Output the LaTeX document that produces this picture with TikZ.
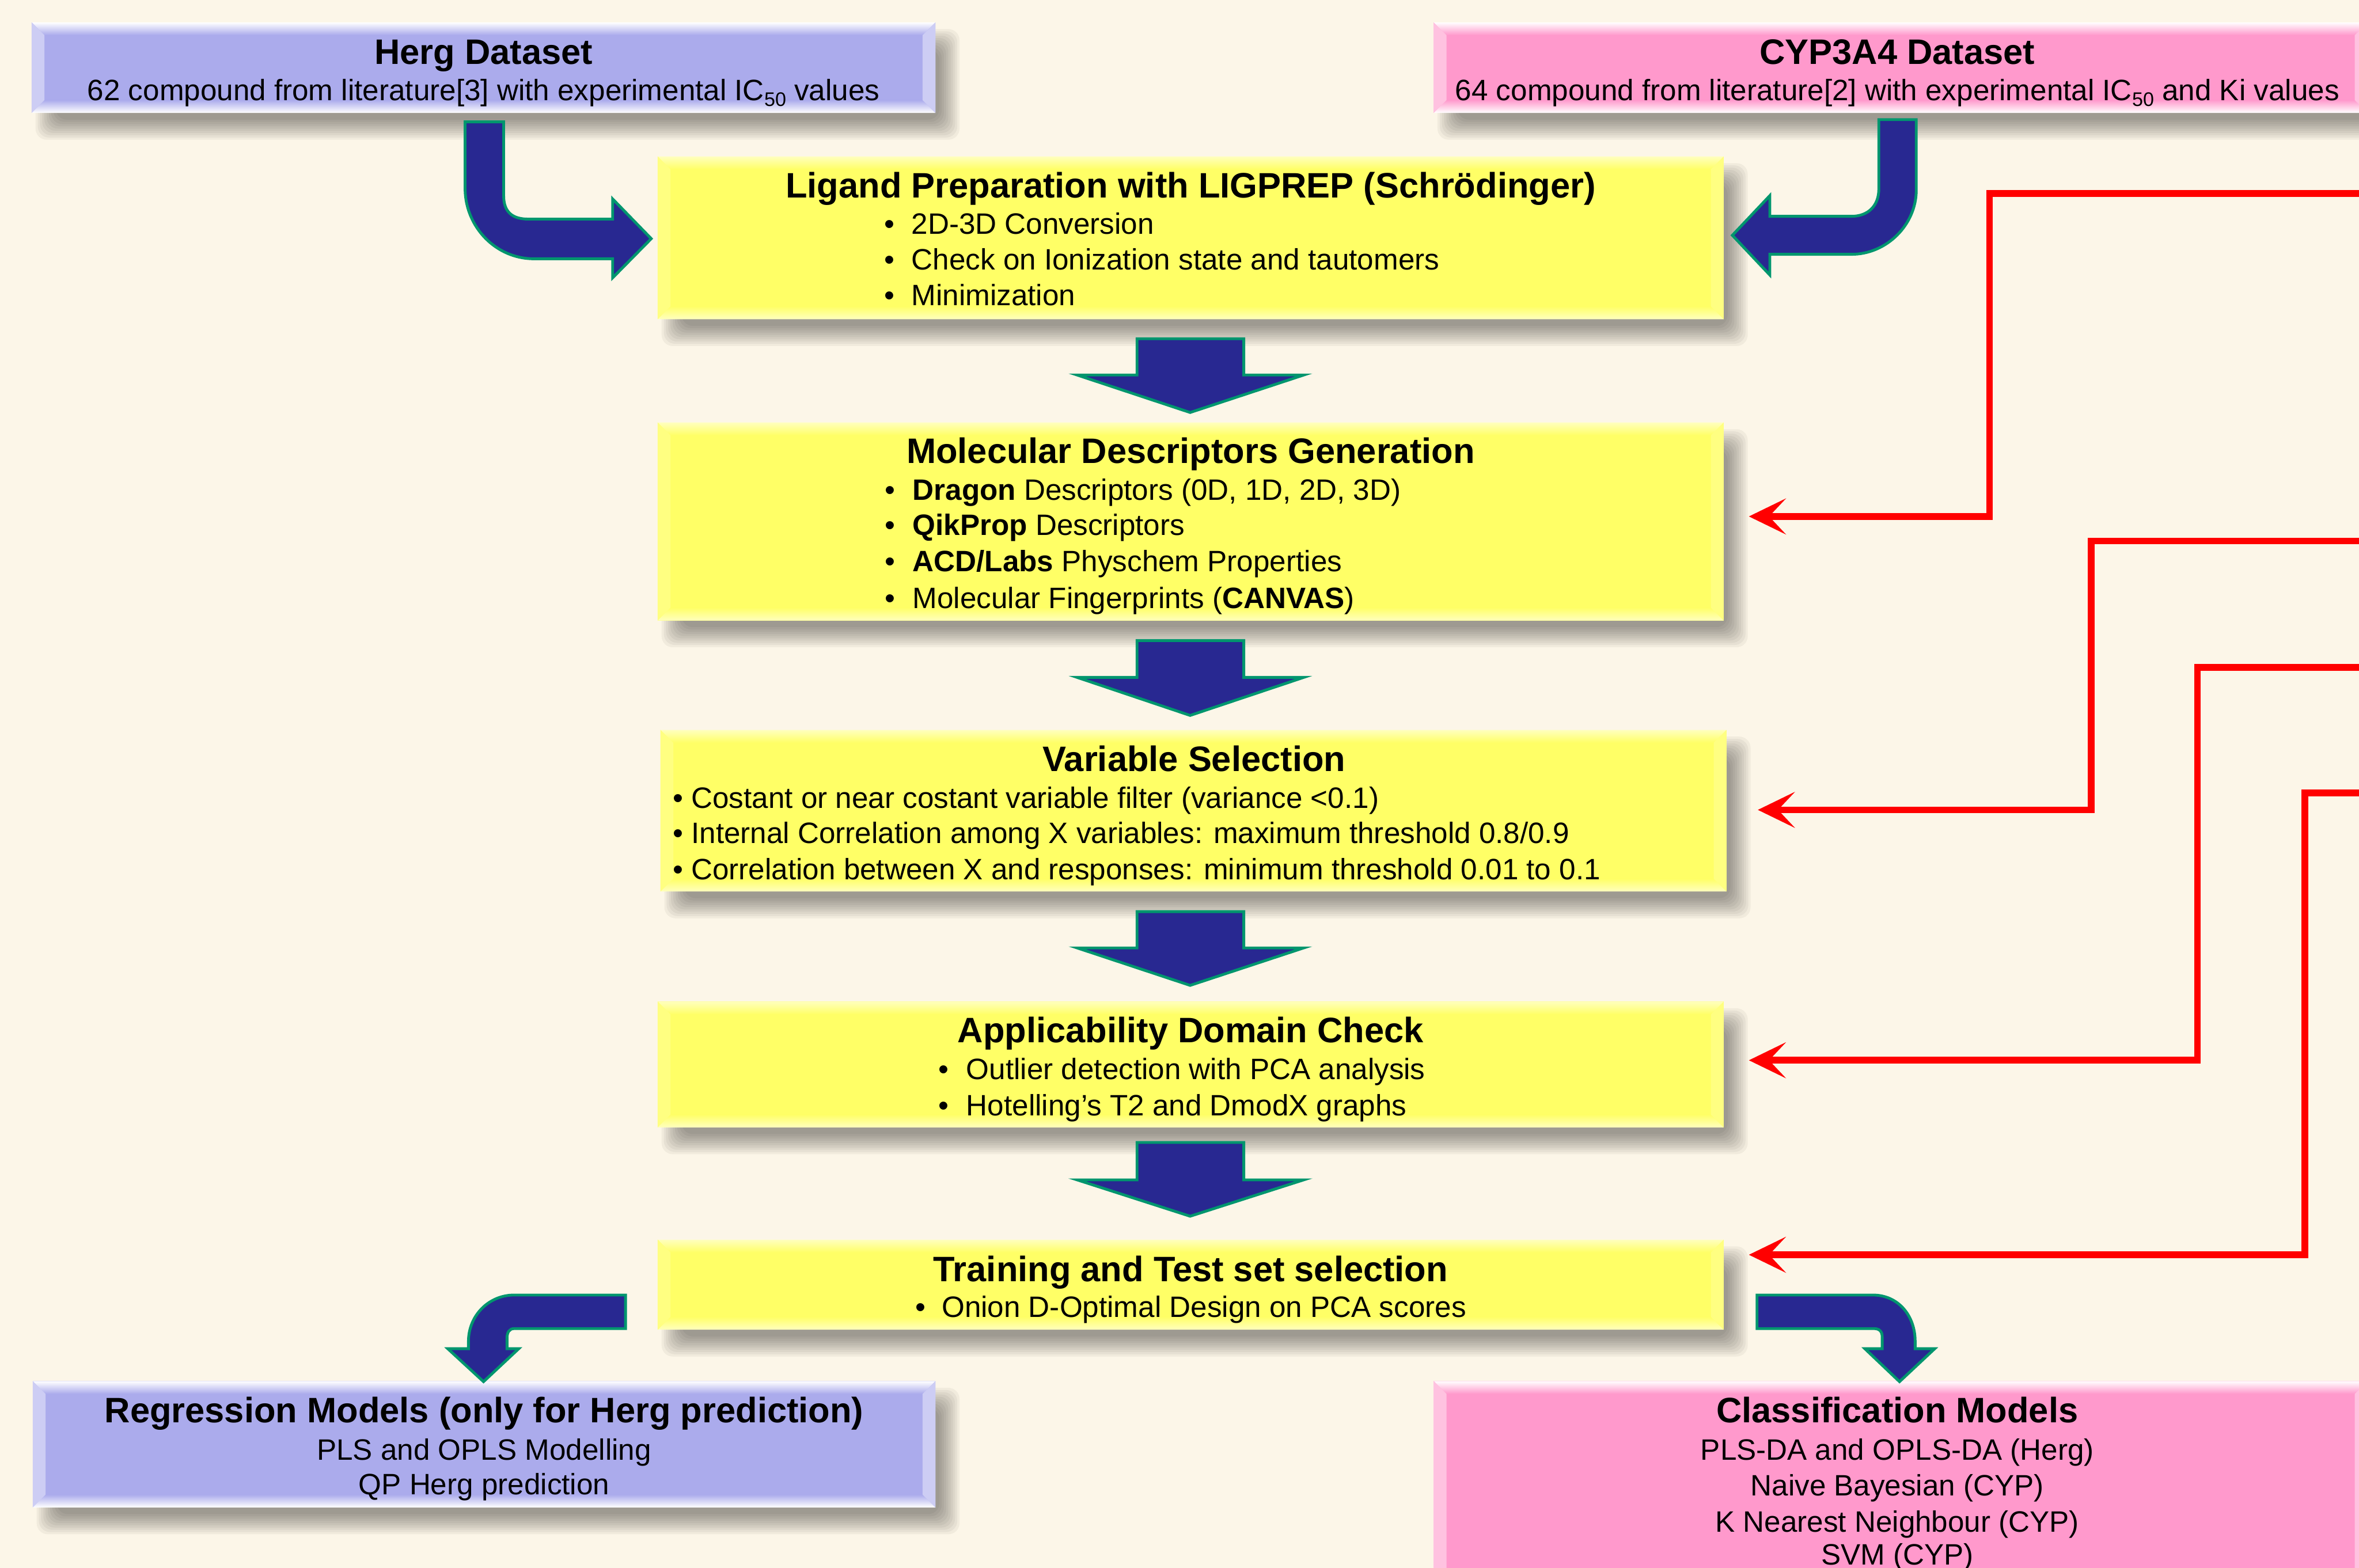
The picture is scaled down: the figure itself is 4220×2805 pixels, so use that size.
\documentclass[tikz,border=0pt]{standalone}
\usepackage{fontspec}
\setmainfont{Liberation Sans}
\usetikzlibrary{calc,arrows.meta}
\pgfdeclarelayer{bg}
\pgfsetlayers{bg,main}
\definecolor{bgc}{RGB}{252,246,232}
\definecolor{boxyellow}{RGB}{255,255,102}
\definecolor{lightyellow}{RGB}{255,255,190}
\definecolor{boxblue}{RGB}{171,171,236}
\definecolor{boxpink}{RGB}{255,153,204}
\definecolor{navy}{RGB}{40,40,145}
\definecolor{tealline}{RGB}{0,150,110}
\definecolor{redline}{RGB}{255,0,0}
\tikzset{
  box/.style={rectangle, inner sep=0pt, outer sep=0pt},
  ybox/.style={box, fill=boxyellow},
  bbox/.style={box, fill=boxblue},
  pbox/.style={box, fill=boxpink},
  shadowlayer/.style={black, opacity=0.045, rounded corners=0.2cm},
  ttl/.style={font=\fontsize{18}{21}\selectfont\bfseries, anchor=base, inner sep=0pt},
  txt/.style={font=\fontsize{15}{18}\selectfont, anchor=base, inner sep=0pt},
  txtl/.style={txt, anchor=base west},
  blockarrow/.style={fill=navy, draw=tealline, line width=0.05cm, line join=miter},
  redconn/.style={draw=redline, line width=0.12cm, line join=miter,
    -{Stealth[length=0.66cm, width=0.64cm, inset=0.3cm]}, shorten >=0.45cm},
}
\newcommand{\bevel}[4]{% node, main, light, side
  \shade[top color=#3, bottom color=#2] (#1.north west) -- (#1.north east) -- ++(-23,23) -- ($(#1.north west)+(23,23)$) -- cycle;
  \shade[top color=#2, bottom color=#3] (#1.south west) -- (#1.south east) -- ++(-23,-23) -- ($(#1.south west)+(23,-23)$) -- cycle;
  \fill[#4] (#1.north west) -- ++(23,23) -- ($(#1.south west)+(23,-23)$) -- (#1.south west) -- cycle;
  \fill[#4] (#1.north east) -- ++(-23,23) -- ($(#1.south east)+(-23,-23)$) -- (#1.south east) -- cycle;
}
\newcommand{\softshadow}[1]{%
  \begin{pgfonlayer}{bg}
  \foreach \k in {0,...,9}{
    \fill[shadowlayer] ($(#1.north west)+(7+4*\k,12+4*\k)$) rectangle ($(#1.south east)+(43-4*\k,48-4*\k)$);
  }
  \end{pgfonlayer}}
\newcommand{\downblock}[3]{%
  \draw[blockarrow] (2034,#1) -- (2225,#1) -- (2225,#2) -- (2332,#2) -- (2129,#3) -- (1927,#2) -- (2034,#2) -- cycle;
}
\newcommand{\sub}[1]{\raisebox{-0.35ex}{\fontsize{10}{12}\selectfont #1}}
\begin{document}
\begin{tikzpicture}[x=0.01cm, y=-0.01cm]
\useasboundingbox (0,0) rectangle (4220,2805);
\begin{pgfonlayer}{bg}
\fill[bgc] (0,0) rectangle (4220,2805);
\end{pgfonlayer}
\clip (0,0) rectangle (4220,2805);

% ---- boxes
\node[bbox, minimum width=16.16cm, minimum height=1.62cm] (herg) at (865,121) {};
\softshadow{herg}
\bevel{herg}{boxblue}{white}{white!40!boxblue}
\node[pbox, minimum width=16.70cm, minimum height=1.62cm] (cyp) at (3400,121) {};
\softshadow{cyp}
\bevel{cyp}{boxpink}{white}{white!40!boxpink}
\node[ybox, minimum width=19.06cm, minimum height=2.91cm] (lig) at (2130,425.5) {};
\softshadow{lig}
\bevel{lig}{boxyellow}{lightyellow}{boxyellow!70!lightyellow}
\node[ybox, minimum width=19.06cm, minimum height=3.54cm] (mol) at (2130,933) {};
\softshadow{mol}
\bevel{mol}{boxyellow}{lightyellow}{boxyellow!70!lightyellow}
\node[ybox, minimum width=19.06cm, minimum height=2.89cm] (var) at (2135,1450.5) {};
\softshadow{var}
\bevel{var}{boxyellow}{lightyellow}{boxyellow!70!lightyellow}
\node[ybox, minimum width=19.06cm, minimum height=2.25cm] (app) at (2130,1904.5) {};
\softshadow{app}
\bevel{app}{boxyellow}{lightyellow}{boxyellow!70!lightyellow}
\node[ybox, minimum width=19.06cm, minimum height=1.61cm] (train) at (2130,2298.5) {};
\softshadow{train}
\bevel{train}{boxyellow}{lightyellow}{boxyellow!70!lightyellow}
\node[bbox, minimum width=16.14cm, minimum height=2.26cm] (reg) at (866,2584) {};
\softshadow{reg}
\bevel{reg}{boxblue}{white}{white!40!boxblue}
\node[pbox, minimum width=16.70cm, minimum height=3.59cm] (cls) at (3400,2650.5) {};
\softshadow{cls}
\bevel{cls}{boxpink}{white}{white!40!boxpink}

% ---- texts
\node[ttl] (hergT) at (865,115) {Herg Dataset};
\node[txt] (hergS) at (865,180) {62 compound from literature[3] with experimental IC\sub{50} values};
\node[ttl] (cypT) at (3394,115) {CYP3A4 Dataset};
\node[txt] (cypS) at (3394,180) {64 compound from literature[2] with experimental IC\sub{50} and Ki values};

\node[ttl] (ligT) at (2130,354) {Ligand Preparation with LIGPREP (Schrödinger)};
\node[txtl] (ligb1) at (1581,419) {•};
\node[txtl] (ligb2) at (1581,483) {•};
\node[txtl] (ligb3) at (1581,547) {•};
\node[txtl] (lig1) at (1630,419) {2D-3D Conversion};
\node[txtl] (lig2) at (1630,483) {Check on Ionization state and tautomers};
\node[txtl] (lig3) at (1630,547) {Minimization};

\node[ttl] (molT) at (2130,829) {Molecular Descriptors Generation};
\node[txtl] (molb1) at (1582,895) {•};
\node[txtl] (molb2) at (1582,958) {•};
\node[txtl] (molb3) at (1582,1023) {•};
\node[txtl] (molb4) at (1582,1088) {•};
\node[txtl] (mol1) at (1632,895) {\textbf{Dragon} Descriptors (0D, 1D, 2D, 3D)};
\node[txtl] (mol2) at (1632,958) {\textbf{QikProp} Descriptors};
\node[txtl] (mol3) at (1632,1023) {\textbf{ACD/Labs} Physchem Properties};
\node[txtl] (mol4) at (1632,1088) {Molecular Fingerprints (\textbf{CANVAS})};

\node[ttl] (varT) at (2136,1380) {Variable Selection};
\node[txtl] (var1) at (1203,1446) {• Costant or near costant variable filter (variance <0.1)};
\node[txtl] (var2) at (1203,1509) {• Internal Correlation among X variables: maximum threshold 0.8/0.9};
\node[txtl] (var3) at (1203,1574) {• Correlation between X and responses: minimum threshold 0.01 to 0.1};

\node[ttl] (appT) at (2130,1865) {Applicability Domain Check};
\node[txtl] (appb1) at (1678,1931) {•};
\node[txtl] (appb2) at (1678,1996) {•};
\node[txtl] (app1) at (1728,1931) {Outlier detection with PCA analysis};
\node[txtl] (app2) at (1728,1996) {Hotelling’s T2 and DmodX graphs};

\node[ttl] (trainT) at (2130,2293) {Training and Test set selection};
\node[txtl] (trainb1) at (1637,2357) {•};
\node[txtl] (train1) at (1684,2357) {Onion D-Optimal Design on PCA scores};

\node[ttl] (regT) at (866,2545) {Regression Models (only for Herg prediction)};
\node[txt] (reg1) at (866,2612) {PLS and OPLS Modelling};
\node[txt] (reg2) at (866,2674) {QP Herg prediction};

\node[ttl] (clsT) at (3394,2545) {Classification Models};
\node[txt] (cls1) at (3394,2612) {PLS-DA and OPLS-DA (Herg)};
\node[txt] (cls2) at (3394,2676) {Naive Bayesian (CYP)};
\node[txt] (cls3) at (3394,2741) {K Nearest Neighbour (CYP)};
\node[txt] (cls4) at (3394,2800) {SVM (CYP)};

% ---- block arrows
\downblock{606}{671}{738}
\downblock{1146}{1212}{1280}
\downblock{1631}{1696}{1763}
\downblock{2044}{2111}{2176}

% Herg bent arrow (down then right)
\draw[blockarrow] (832,218) -- (901,218) -- (901,350)
  .. controls (901,378) and (915,392) .. (945,392) -- (1096,392) -- (1096,356)
  -- (1165,427) -- (1096,497) -- (1096,463) -- (955,463)
  .. controls (887,463) and (832,406) .. (832,337) -- cycle;
% CYP bent arrow (down then left)
\draw[blockarrow] (3361,214) -- (3428,214) -- (3428,340)
  .. controls (3428,402) and (3375,455) .. (3312,455) -- (3166,455) -- (3166,492)
  -- (3099,421) -- (3166,350) -- (3166,387) -- (3312,387)
  .. controls (3342,387) and (3361,368) .. (3361,338) -- cycle;
% Regression bent arrow (left then down)
\draw[blockarrow] (1119,2317) -- (1119,2377) -- (920,2377)
  .. controls (911,2377) and (907,2384) .. (907,2394) -- (907,2413) -- (928,2413)
  -- (865,2472) -- (801,2413) -- (838,2413) -- (838,2400)
  .. controls (838,2354) and (874,2317) .. (920,2317) -- cycle;
% Classification bent arrow (right then down)
\draw[blockarrow] (3143,2317) -- (3350,2317)
  .. controls (3396,2317) and (3426,2354) .. (3426,2400) -- (3426,2413) -- (3461,2413)
  -- (3398,2472) -- (3336,2413) -- (3367,2413) -- (3367,2392)
  .. controls (3367,2382) and (3362,2377) .. (3352,2377) -- (3143,2377) -- cycle;

% ---- red connectors
\coordinate (r1) at (4300,346);
\coordinate (r2) at (4300,968);
\coordinate (r3) at (4300,1194);
\coordinate (r4) at (4300,1419);
\draw[redconn] (r1) -- (3559,346) -- (3559,924) -- (mol.east |- 0,924);
\draw[redconn] (r2) -- (3741,968) -- (3741,1449) -- ([xshift=0.11cm]var.east |- 0,1449);
\draw[redconn] (r3) -- (3931,1194) -- (3931,1897) -- (app.east |- 0,1897);
\draw[redconn] (r4) -- (4123,1419) -- (4123,2245) -- (train.east |- 0,2245);
\end{tikzpicture}
\end{document}
